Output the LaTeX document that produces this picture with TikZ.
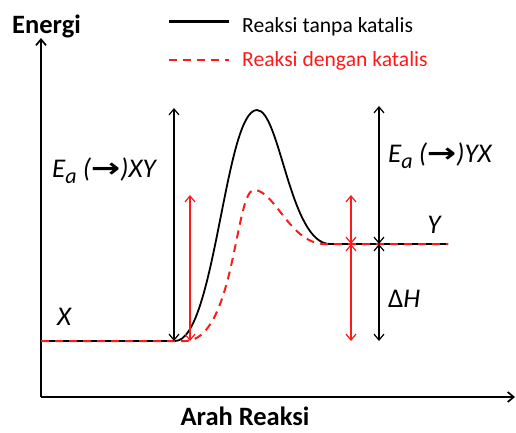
\documentclass[tikz,border=0pt]{standalone}
\usepackage{fontspec}
\setmainfont{Carlito}
\newfontfamily\arrowfont{DejaVu Sans}
\usepackage{tikz}
\usetikzlibrary{positioning,arrows.meta}
\definecolor{catred}{HTML}{FF1A1A}
\newcommand{\eaarrow}{{\arrowfont\upshape\bfseries\scalebox{1.3}[1]{→}}}
\newcommand{\easub}{\raisebox{-6pt}{\fontsize{22}{22}\selectfont a}}

\begin{document}
\begin{tikzpicture}[
  x=1pt,y=-1pt,
  font=\fontsize{21.6}{25}\selectfont,
  axis/.style={-{Straight Barb[length=6pt,width=10pt]},line width=1.7pt},
  ea/.style={{Straight Barb[length=6pt,width=10pt]}-{Straight Barb[length=6pt,width=10pt]},line width=1.2pt},
  eared/.style={ea,catred},
  nocat/.style={line width=1.8pt,black},
  cat/.style={line width=2pt,catred,dash pattern=on 8pt off 6pt},
  axlbl/.style={font=\fontsize{26.5}{30}\selectfont\bfseries,inner sep=0pt,anchor=base},
  lvl/.style={font=\fontsize{27}{30}\selectfont\itshape,inner sep=0pt,anchor=base west},
]
\useasboundingbox (0,0) rectangle (516,432);
% Axes
\coordinate (O)  at (41,397);
\coordinate (yt) at (41,38);
\coordinate (xt) at (515,397);
\draw[axis] (O) -- (yt);
\draw[axis] (O) -- (xt);
\node[axlbl] (energi) at (46.5,33) {Energi};
\node[axlbl] (arah)   at (245,425) {Arah Reaksi};

% Legend
\coordinate (l1a) at (169,21);
\coordinate (l1b) at (229,21);
\coordinate (l2a) at (169,60);
\coordinate (l2b) at (229,60);
\draw[nocat,line width=3pt] (l1a) -- (l1b);
\draw[cat] (l2a) -- (l2b);
\node[anchor=base west,inner sep=0pt] (leg1) at (242,32) {Reaksi tanpa katalis};
\node[anchor=base west,inner sep=0pt,text=catred] (leg2) at (242,66) {Reaksi dengan katalis};

% Levels
\coordinate (xs) at (41,341);
\coordinate (ye) at (448,244);
\draw[nocat] (xs) -- (175,341) .. controls (215,341) and (225,110) .. (257,110)
  .. controls (280,110) and (290,244) .. (330,244) -- (ye);
\draw[cat] (xs) -- (185,341) .. controls (235,341) and (235,190) .. (254,190)
  .. controls (275,190) and (290,244) .. (325,244) -- (ye);
\node[lvl] (X) at (57,325) {X};
\node[lvl,anchor=base] (Y) at (434,233) {Y};

% Activation energies
\coordinate (a1t) at (174,108);
\coordinate (a1b) at (174,341);
\coordinate (r1t) at (190,195);
\coordinate (r1b) at (190,341);
\coordinate (a2t) at (379,106);
\coordinate (a2m) at (379,244);
\coordinate (a2b) at (379,341);
\coordinate (r2t) at (351,195);
\coordinate (r2m) at (351,244);
\coordinate (r2b) at (351,341);
\draw[ea] (a1t) -- (a1b);
\draw[eared] (r1t) -- (r1b);
\draw[ea] (a2t) -- (a2m);
\draw[ea] (a2m) -- (a2b);
\draw[eared] (r2t) -- (r2m);
\draw[eared] (r2m) -- (r2b);
\node[lvl] (eaxy) at (52,177) {E\easub{} (\eaarrow)XY};
\node[lvl] (eayx) at (388,162) {E\easub{} (\eaarrow)YX};
\node[lvl] (dh) at (388,307) {{\upshape Δ}H};
\end{tikzpicture}
\end{document}
